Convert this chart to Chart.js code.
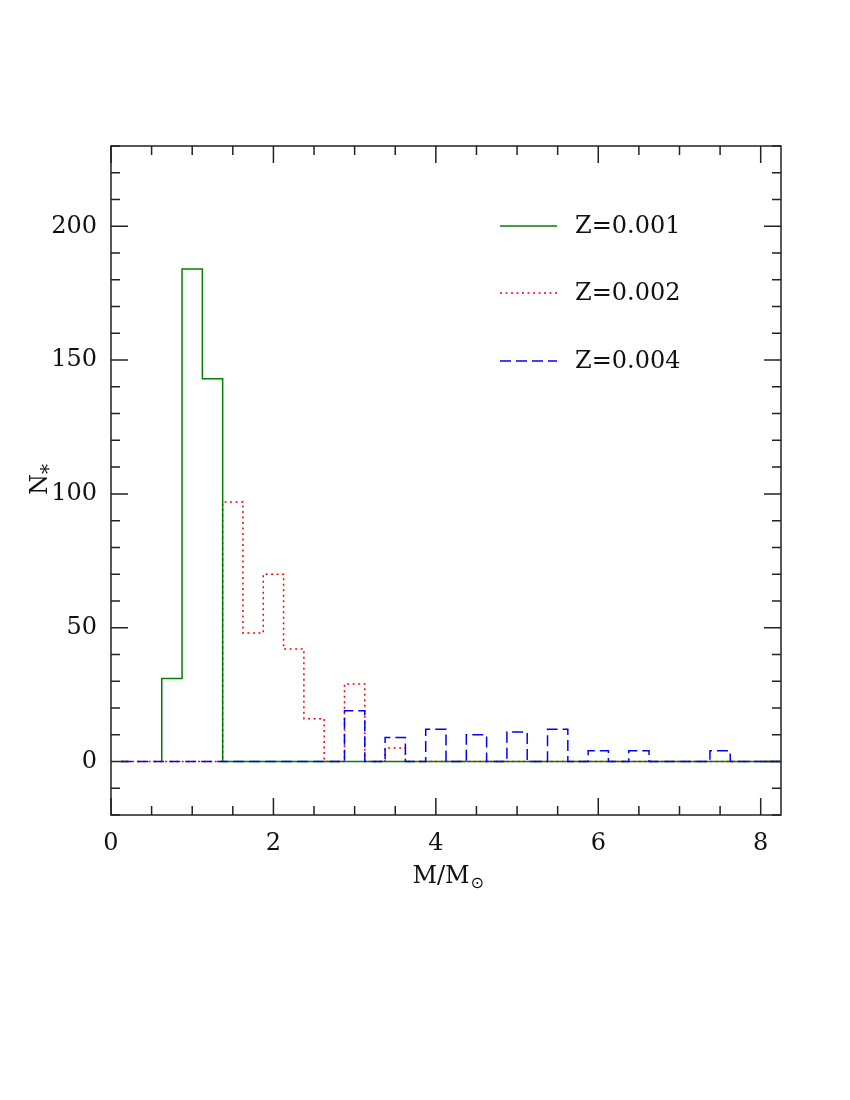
<!DOCTYPE html>
<html>
<head>
<meta charset="utf-8">
<script src="https://cdn.jsdelivr.net/npm/chart.js@4.4.1/dist/chart.umd.min.js"></script>
<style>
html,body{margin:0;padding:0;background:#fff;}
#wrap{width:850px;height:1100px;}
</style>
</head>
<body>
<div id="wrap"><canvas id="c" width="850" height="1100"></canvas></div>
<script>
// Bin centres (M/Msun), bin width 0.25
const binCenters = [0.25,0.5,0.75,1.0,1.25,1.5,1.75,2.0,2.25,2.5,2.75,3.0,3.25,3.5,3.75,4.0,4.25,4.5,4.75,5.0,5.25,5.5,5.75,6.0,6.25,6.5,6.75,7.0,7.25,7.5,7.75,8.0,8.25];
const binWidth = 0.25;
const seriesZ001 = [null,null,31,184,143,0,0,0,0,0,0,0,0,0,0,0,0,0,0,0,0,0,0,0,0,0,0,0,0,0,0,0,0];
const seriesZ002 = [0,0,0,0,0,97,48,70,42,16,0,29,0,5,0,0,0,0,0,0,0,0,0,0,0,0,0,0,0,0,0,0,0];
const seriesZ004 = [0,0,0,0,0,0,0,0,0,0,0,19,0,9,0,12,0,10,0,11,0,12,0,4,0,4,0,0,0,4,0,0,0];
const seriesLabels = ["Z=0.001","Z=0.002","Z=0.004"];
const xTickLabels = [0,2,4,6,8];
const yTickLabels = [0,50,100,150,200];

function histPoints(vals){
  const pts = [];
  let started = false;
  for (let i=0;i<binCenters.length;i++){
    const v = vals[i];
    if (v === null) continue;
    const l = binCenters[i]-binWidth/2, r = binCenters[i]+binWidth/2;
    if (!started){ pts.push({x:l,y:0}); started = true; }
    pts.push({x:l,y:v});
    pts.push({x:r,y:v});
  }
  return pts;
}

const FONT = "'DejaVu Serif', 'Liberation Serif', serif";

const styles = [
  {color:'#008000', dash:[]},
  {color:'#ff0000', dash:[2,3.5]},
  {color:'#0000ff', dash:[11,5]}
];

const framePlugin = {
  id:'frame',
  afterDraw(chart){
    const ctx = chart.ctx, a = chart.chartArea;
    const xs = chart.scales.x, ys = chart.scales.y;
    ctx.save();
    ctx.strokeStyle = '#222';
    ctx.lineWidth = 1.5;
    ctx.strokeRect(a.left, a.top, a.right-a.left, a.bottom-a.top);
    // x ticks (minor every 0.5, major every 2)
    ctx.beginPath();
    for (let v=0; v<=xs.max+1e-9; v+=0.5){
      const px = xs.getPixelForValue(v);
      const len = xTickLabels.includes(v) ? 17 : 9;
      ctx.moveTo(px, a.bottom); ctx.lineTo(px, a.bottom-len);
      ctx.moveTo(px, a.top); ctx.lineTo(px, a.top+len);
    }
    for (let v=-20; v<=ys.max+1e-9; v+=10){
      const py = ys.getPixelForValue(v);
      const len = yTickLabels.includes(v) ? 17 : 9;
      ctx.moveTo(a.left, py); ctx.lineTo(a.left+len, py);
      ctx.moveTo(a.right, py); ctx.lineTo(a.right-len, py);
    }
    ctx.stroke();

    // legend
    const lx0 = a.left + 389, lx1 = a.left + 446, tx = a.left + 464;
    const ly = [a.top + 80, a.top + 147, a.top + 215];
    ctx.font = "24px " + FONT;
    ctx.textBaseline = 'middle';
    ctx.textAlign = 'left';
    for (let i=0;i<3;i++){
      ctx.strokeStyle = styles[i].color;
      ctx.lineWidth = 1.5;
      ctx.setLineDash(styles[i].dash);
      ctx.beginPath(); ctx.moveTo(lx0, ly[i]); ctx.lineTo(lx1, ly[i]); ctx.stroke();
      ctx.setLineDash([]);
      ctx.fillStyle = '#111';
      ctx.fillText(seriesLabels[i], tx, ly[i]+1);
    }

    // x title M/M⊙
    ctx.fillStyle = '#111';
    ctx.textBaseline = 'alphabetic';
    ctx.font = "24px " + FONT;
    const main = "M/M";
    const w = ctx.measureText(main).width;
    const cx = (a.left+a.right)/2 + 0;
    const startX = cx - (w+14)/2 + 2;
    ctx.fillText(main, startX, 883);
    ctx.font = "16px 'DejaVu Sans', sans-serif";
    ctx.fillText("\u2299", startX + w + 1, 888);

    // y title N*
    ctx.save();
    ctx.translate(47, 495);
    ctx.rotate(-Math.PI/2);
    ctx.font = "24px " + FONT;
    ctx.fillText("N", 0, 0);
    const nw = ctx.measureText("N").width;
    ctx.font = "20px " + FONT;
    ctx.fillText("*", nw + 0, 8);
    ctx.restore();
    ctx.restore();
  }
};

new Chart(document.getElementById('c'), {
  type:'line',
  data:{
    datasets:[
      {label:seriesLabels[0], data:histPoints(seriesZ001), borderColor:styles[0].color, borderWidth:1.5, borderDash:styles[0].dash, pointRadius:0, tension:0, fill:false, order:1},
      {label:seriesLabels[1], data:histPoints(seriesZ002), borderColor:styles[1].color, borderWidth:1.5, borderDash:styles[1].dash, pointRadius:0, tension:0, fill:false, order:2},
      {label:seriesLabels[2], data:histPoints(seriesZ004), borderColor:styles[2].color, borderWidth:1.5, borderDash:styles[2].dash, pointRadius:0, tension:0, fill:false, order:0}
    ]
  },
  options:{
    responsive:false,
    animation:false,
    devicePixelRatio:1,
    layout:{padding:{left:0, top:146, right:69, bottom:225}},
    plugins:{legend:{display:false}, tooltip:{enabled:false}},
    scales:{
      x:{
        type:'linear', min:0, max:8.25,
        afterBuildTicks(s){ s.ticks = xTickLabels.map(v=>({value:v})); },
        afterFit(s){ s.height = 60; },
        grid:{display:false, drawTicks:false},
        border:{display:false},
        ticks:{padding:14, color:'#111', font:{family:FONT, size:24}, maxRotation:0, autoSkip:false}
      },
      y:{
        type:'linear', min:-20, max:230,
        afterBuildTicks(s){ s.ticks = yTickLabels.map(v=>({value:v})); },
        afterFit(s){ s.width = 111; },
        grid:{display:false, drawTicks:false},
        border:{display:false},
        ticks:{padding:14, color:'#111', font:{family:FONT, size:24}, autoSkip:false}
      }
    }
  },
  plugins:[framePlugin]
});
</script>
</body>
</html>
